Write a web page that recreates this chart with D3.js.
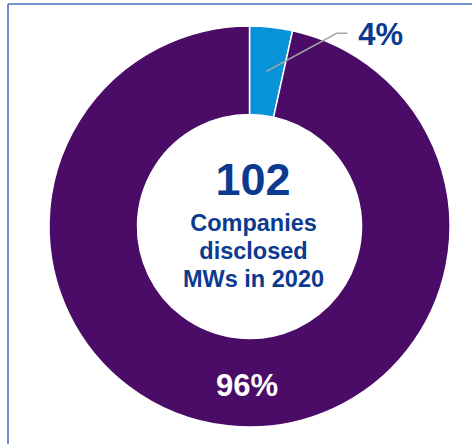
<!DOCTYPE html>
<html>
<head>
<meta charset="utf-8">
<script src="https://cdn.jsdelivr.net/npm/d3@7/dist/d3.min.js"></script>
<style>
  html, body { margin: 0; padding: 0; background: #fff; }
  svg { display: block; }
  text { font-family: "Liberation Sans", Arial, Helvetica, sans-serif; font-weight: bold; }
</style>
</head>
<body>
<svg id="chart" width="472" height="444"></svg>
<script>
// Data
const categories = ["Segment A", "Segment B"];
const values = [3.45, 96.55];
const valueLabels = ["4%", "96%"];
const centerNumber = "102";
const centerLines = ["Companies", "disclosed", "MWs in 2020"];

const colors = ["#0892d8", "#4a0c66"];
const textBlue = "#0b3a8f";

const svg = d3.select("#chart");
const W = 472, H = 444;

// Frame (top and left edges visible)
svg.append("line").attr("x1", 8).attr("y1", 4).attr("x2", W).attr("y2", 4)
  .attr("stroke", "#4a72c0").attr("stroke-width", 1.6);
svg.append("line").attr("x1", 8).attr("y1", 4).attr("x2", 8).attr("y2", H)
  .attr("stroke", "#4a72c0").attr("stroke-width", 1.6);

const cx = 249.5, cy = 226.5;
const outerR = 200.5, innerR = 112;

const pie = d3.pie().sort(null).value(d => d);
const arcs = pie(values);
const arc = d3.arc().innerRadius(innerR).outerRadius(outerR);

const g = svg.append("g").attr("transform", `translate(${cx},${cy})`);

g.selectAll("path.slice")
  .data(arcs)
  .join("path")
  .attr("class", "slice")
  .attr("d", arc)
  .attr("fill", (d, i) => colors[i])
  .attr("stroke", "#ffffff")
  .attr("stroke-width", 1.5);

// Leader line for small slice
const small = arcs[0];
const midA = (small.startAngle + small.endAngle) / 2;
const rStart = innerR + 44;
const p0 = [Math.sin(midA) * rStart, -Math.cos(midA) * rStart];
const elbow = [336.7 - cx, 33.3 - cy];
const p2 = [347.3 - cx, 33.3 - cy];
g.append("polyline")
  .attr("points", [p0, elbow, p2].map(p => p.join(",")).join(" "))
  .attr("fill", "none")
  .attr("stroke", "#a6a6a6")
  .attr("stroke-width", 1.6);

g.append("text")
  .attr("x", p2[0] + 11)
  .attr("y", 45 - cy)
  .attr("fill", textBlue)
  .attr("font-size", 31)
  .text(valueLabels[0]);

// Large slice label (bottom of ring)
g.append("text")
  .attr("x", -2.5)
  .attr("y", 396 - cy)
  .attr("text-anchor", "middle")
  .attr("fill", "#ffffff")
  .attr("font-size", 31)
  .text(valueLabels[1]);

// Center text
g.append("text")
  .attr("x", 3.5)
  .attr("y", 195 - cy)
  .attr("text-anchor", "middle")
  .attr("fill", textBlue)
  .attr("font-size", 45)
  .text(centerNumber);

const baselines = [231, 259, 287];
centerLines.forEach((t, i) => {
  g.append("text")
    .attr("x", 4)
    .attr("y", baselines[i] - cy)
    .attr("text-anchor", "middle")
    .attr("fill", textBlue)
    .attr("font-size", 23.5)
    .text(t);
});
</script>
</body>
</html>
